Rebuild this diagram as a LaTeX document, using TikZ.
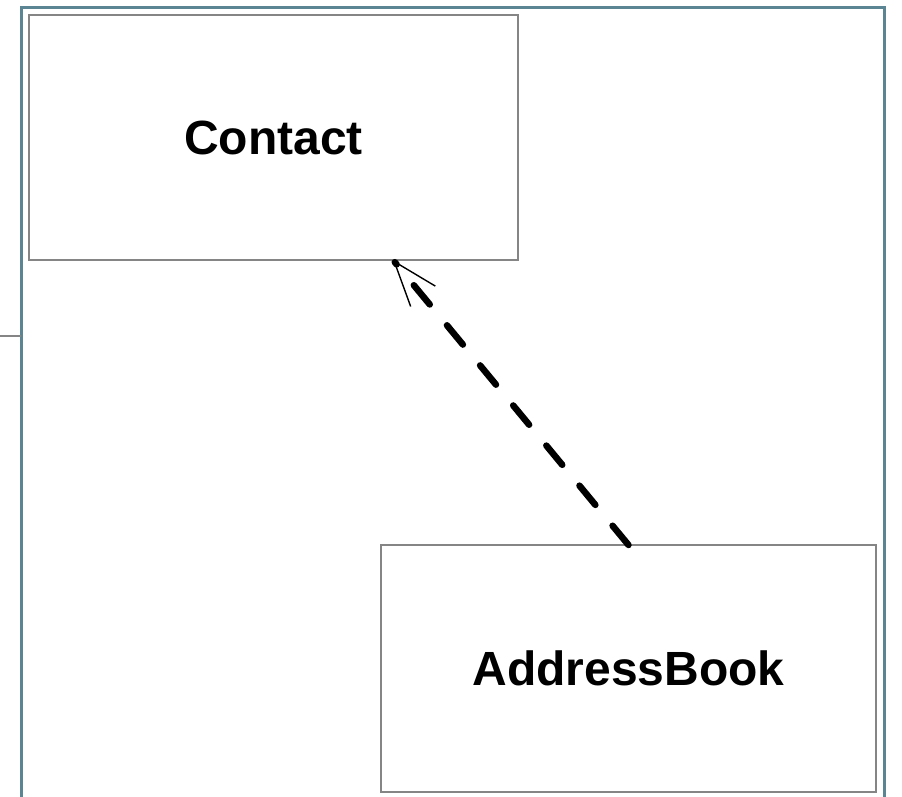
\documentclass[tikz,border=0pt]{standalone}
\usepackage{fontspec}
\setmainfont{Liberation Sans}
\usetikzlibrary{arrows.meta}
\definecolor{framecol}{HTML}{5B8593}
\definecolor{boxgray}{HTML}{858585}

\begin{document}
\begin{tikzpicture}[x=1pt,y=-1pt,
  classbox/.style = {rectangle,draw=boxgray,line width=2.6pt,minimum width=489pt,minimum height=245pt,outer sep=0mm,font=\fontsize{48}{56}\selectfont\bfseries},
  depends/.style = {line width=6.5pt,line cap=round,dash pattern=on 25pt off 27pt,-{Straight Barb[length=45pt,width=32pt,line width'=1.4pt]}}]
\useasboundingbox (0,0) rectangle (902,797);
\draw[framecol,line width=3pt] (21,797) -- (21,8) -- (884,8) -- (884,797);
\draw[boxgray,line width=2.6pt] (0,336) -- (21,336);
\node[classbox] (contact) at (273.5,137.5) {Contact};
\node[classbox,minimum width=495pt,minimum height=247pt] (addressbook) at (628.5,668.5) {AddressBook};
\coordinate (tip) at (393,260);
\draw[depends] (addressbook.north) -- (tip);
\end{tikzpicture}
\end{document}
